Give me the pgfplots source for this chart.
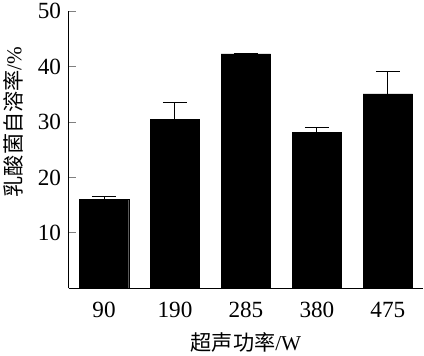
\documentclass[border=0pt]{standalone}
\usepackage{pgfplots}
\pgfplotsset{compat=1.18}
\usepackage{fontspec}
\setmainfont{Liberation Serif}
\newfontfamily\cjk{Noto Sans CJK SC}
\begin{document}
\begin{tikzpicture}
\begin{axis}[
  scale only axis, width=352pt, height=275pt,
  xmin=-0.5, xmax=4.5, ymin=0, ymax=50,
  axis x line*=bottom, axis y line*=left,
  axis line style={line width=1.3pt},
  xtick=data, xticklabels={90,190,285,380,475},
  xtick style={draw=none},
  ytick={10,20,30,40,50},
  tick align=inside, major tick length=7pt,
  ytick style={line width=1pt},
  /pgf/number format/assume math mode=true,
  tick label style={font=\fontsize{23}{25}\selectfont},
  label style={font=\fontsize{21}{24}\selectfont},
  yticklabel style={xshift=-4pt},
  xticklabel style={yshift=-10pt},
  ylabel={{\cjk 乳酸菌自溶率}/\%},
  ylabel style={at={(axis description cs:-0.156,0.6)}, anchor=center},
  xlabel={{\cjk 超声功率}/W},
  xlabel style={yshift=-8pt},
]
\addplot[ybar, bar width=49pt, fill=black, draw=black,
  error bars/.cd, y dir=plus, y explicit,
  error bar style={line width=1pt, black},
  error mark options={rotate=90, mark size=12pt, line width=1pt, black}]
  table[x=x, y=y, y error=e] {
x y e
0 16.0 0.5
1 30.5 3.0
2 42.3 0.05
3 28.2 0.8
4 35.1 4.0
};
\end{axis}
\end{tikzpicture}
\end{document}
